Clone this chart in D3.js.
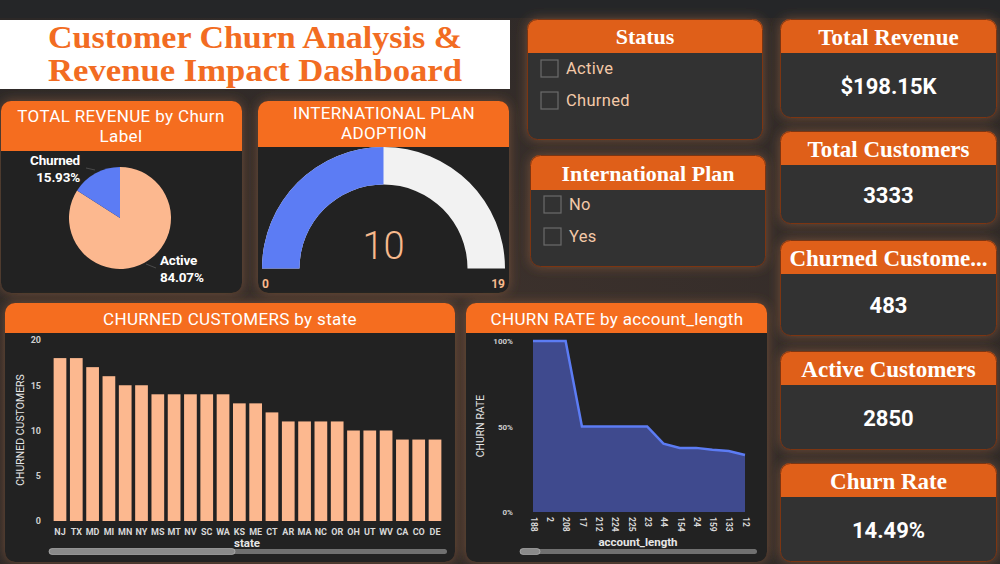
<!DOCTYPE html>
<html><head><meta charset="utf-8">
<script src="https://cdn.jsdelivr.net/npm/d3@7"></script>
<style>
html,body{margin:0;padding:0;background:#2e2a29;}
svg{display:block;}
</style></head>
<body>
<svg id="c" width="1000" height="564"></svg>
<script>
// ---------- DATA ----------
const titleLines = ["Customer Churn Analysis &", "Revenue Impact Dashboard"];
const pieLabels = ["Active", "Churned"];
const pieValues = [84.07, 15.93];
const gaugeValue = 9.5;
const gaugeMin = 0;
const gaugeMax = 19;
const statusOptions = ["Active", "Churned"];
const planOptions = ["No", "Yes"];
const kpiTitles = ["Total Revenue", "Total Customers", "Churned Custome...", "Active Customers", "Churn Rate"];
const kpiValues = ["$198.15K", "3333", "483", "2850", "14.49%"];
const states = ["NJ","TX","MD","MI","MN","NY","MS","MT","NV","SC","WA","KS","ME","CT","AR","MA","NC","OR","OH","UT","WV","CA","CO","DE"];
const churnedByState = [18,18,17,16,15,15,14,14,14,14,14,13,13,12,11,11,11,11,10,10,10,9,9,9];
const stateTicks = [0,5,10,15,20];
const accountLengths = ["188","2","208","17","212","224","225","23","44","154","24","159","133","12"];
const churnRates = [1,1,1,0.5,0.5,0.5,0.5,0.5,0.4,0.375,0.375,0.364,0.357,0.333];
const rateTicks = [0,0.5,1];

// ---------- STYLE ----------
const DIN = "Roboto, 'DejaVu Sans', sans-serif";
const SERIF = "'Liberation Serif', 'DejaVu Serif', serif";
const ORANGE = "#f56d1f";
const ORANGE2 = "#df5f19";
const PEACH = "#fcb88f";
const BLUE = "#5c7cf4";

const svg = d3.select("#c");
const defs = svg.append("defs");

// background
const bg = defs.append("radialGradient").attr("id","bgg").attr("cx","50%").attr("cy","55%").attr("r","70%");
bg.append("stop").attr("offset","0%").attr("stop-color","#3c312c");
bg.append("stop").attr("offset","100%").attr("stop-color","#2c2827");
svg.append("rect").attr("width",1000).attr("height",564).attr("fill","url(#bgg)");
svg.append("rect").attr("width",1000).attr("height",18).attr("fill","#252628");

const glow = defs.append("filter").attr("id","glow").attr("x","-20%").attr("y","-20%").attr("width","140%").attr("height","140%");
glow.append("feDropShadow").attr("dx",0).attr("dy",0).attr("stdDeviation",6).attr("flood-color","#7e5238").attr("flood-opacity",0.85);

let clipN = 0;
function panel(x, y, w, h, headH, opts) {
  const o = Object.assign({r:10, head:ORANGE, body:"#262626", stroke:null}, opts||{});
  const id = "clip" + (clipN++);
  defs.append("clipPath").attr("id", id).append("rect")
    .attr("x", x).attr("y", y).attr("width", w).attr("height", h).attr("rx", o.r);
  const g = svg.append("g");
  g.append("rect").attr("x", x).attr("y", y).attr("width", w).attr("height", h).attr("rx", o.r)
    .attr("fill", o.body).attr("filter","url(#glow)");
  const inner = g.append("g").attr("clip-path", `url(#${id})`);
  inner.append("rect").attr("x", x).attr("y", y).attr("width", w).attr("height", headH).attr("fill", o.head);
  if (o.stroke) {
    g.append("rect").attr("x", x+0.5).attr("y", y+0.5).attr("width", w-1).attr("height", h-1).attr("rx", o.r)
      .attr("fill","none").attr("stroke", o.stroke).attr("stroke-width",1);
  }
  return g;
}
function header(g, lines, cx, y0, dy) {
  g.selectAll(null).data(lines).join("text")
    .attr("x",cx).attr("y",(d,i)=>y0+i*dy).attr("text-anchor","middle")
    .attr("font-family",DIN).attr("font-size",17).attr("letter-spacing",0.35).attr("fill","#fff").text(d=>d);
}

// ---------- TITLE ----------
svg.append("rect").attr("x",0).attr("y",20).attr("width",510).attr("height",69).attr("fill","#ffffff");
svg.append("g").selectAll("text").data(titleLines).join("text")
  .attr("x",255).attr("y",(d,i)=>48+i*33).attr("text-anchor","middle")
  .attr("font-family",SERIF).attr("font-weight","bold").attr("font-size",31)
  .attr("textLength",414).attr("lengthAdjust","spacingAndGlyphs")
  .attr("fill","#f26c22").text(d=>d);

// ---------- PIE ----------
{
  const g = panel(1,101,241,192,50,{body:"#232323"});
  header(g, ["TOTAL REVENUE by Churn","Label"], 121, 122, 20);
  const cx=120, cy=218, r=51;
  const pie = d3.pie().sort(null).startAngle(0).endAngle(2*Math.PI);
  const arcs = pie(pieValues);
  const arc = d3.arc().innerRadius(0).outerRadius(r);
  const colors = [PEACH, BLUE];
  g.append("g").attr("transform",`translate(${cx},${cy})`).selectAll("path").data(arcs).join("path")
    .attr("d",arc).attr("fill",(d,i)=>colors[i]);
  g.append("line").attr("x1",86).attr("y1",168).attr("x2",95).attr("y2",170).attr("stroke","#555").attr("stroke-width",0.8);
  g.append("line").attr("x1",146).attr("y1",264).attr("x2",156).attr("y2",268).attr("stroke","#555").attr("stroke-width",0.8);
  const fmt = d3.format(".2f");
  const lab = (x,y,anchor,t)=>g.append("text").attr("x",x).attr("y",y).attr("text-anchor",anchor)
    .attr("font-family",DIN).attr("font-weight","bold").attr("font-size",13.5).attr("letter-spacing",-0.2).attr("fill","#fff").text(t);
  lab(80,165,"end",pieLabels[1]);
  lab(80,182,"end",fmt(pieValues[1])+"%");
  lab(160,265,"start",pieLabels[0]);
  lab(160,282,"start",fmt(pieValues[0])+"%");
}

// ---------- GAUGE ----------
{
  const g = panel(258,101,251,192,46,{body:"#232323"});
  header(g, ["INTERNATIONAL PLAN","ADOPTION"], 384, 119, 20);
  const cx=383.5, cy=268.5;
  const a = d3.scaleLinear().domain([gaugeMin,gaugeMax]).range([-Math.PI/2, Math.PI/2]);
  const arc = d3.arc().innerRadius(84).outerRadius(121.5);
  const gg = g.append("g").attr("transform",`translate(${cx},${cy})`);
  gg.append("path").attr("d",arc({startAngle:a(gaugeMin),endAngle:a(gaugeMax)})).attr("fill","#f2f2f2");
  gg.append("path").attr("d",arc({startAngle:a(gaugeMin),endAngle:a(gaugeValue)})).attr("fill",BLUE);
  g.append("text").attr("x",cx).attr("y",259).attr("text-anchor","middle").attr("font-family",DIN).attr("font-weight",300)
    .attr("font-size",38).attr("fill","#f7b98c").text(d3.format(".0f")(gaugeValue));
  g.append("text").attr("x",262).attr("y",288).attr("font-family",DIN).attr("font-weight","bold")
    .attr("font-size",12).attr("fill","#f7b98c").text(gaugeMin);
  g.append("text").attr("x",505).attr("y",288).attr("text-anchor","end").attr("font-family",DIN).attr("font-weight","bold")
    .attr("font-size",12).attr("fill","#f7b98c").text(gaugeMax);
}

// ---------- SLICERS ----------
function slicer(x,y,w,h,headH,title,items,itemY0,boxX) {
  const g = panel(x,y,w,h,headH,{head:ORANGE2, body:"#333233", stroke:"#7c3512"});
  g.append("text").attr("x",x+w/2).attr("y",y+headH-9).attr("text-anchor","middle")
    .attr("font-family",SERIF).attr("font-weight","bold").attr("font-size",22).attr("fill","#fff").text(title);
  const it = g.selectAll("g.it").data(items).join("g").attr("transform",(d,i)=>`translate(0,${itemY0+i*32})`);
  it.append("rect").attr("x",boxX).attr("y",0).attr("width",17).attr("height",17).attr("fill","none")
    .attr("stroke","#6b6b6b").attr("stroke-width",1.2);
  it.append("text").attr("x",boxX+25).attr("y",14).attr("font-family",DIN).attr("font-size",16.5).attr("letter-spacing",0.3)
    .attr("fill","#f3c9a8").text(d=>d);
}
slicer(527,19,236,121,34,"Status",statusOptions,60,541);
slicer(530,155,236,112,35,"International Plan",planOptions,196,544);

// ---------- KPI CARDS ----------
const kpiY = [19,131,240,351,463];
const kpiH = [99,93,96,99,99];
kpiTitles.forEach((t,i)=>{
  const y = kpiY[i];
  const g = panel(780,y,217,kpiH[i],34,{head:ORANGE2, body:"#333233", stroke:"#7c3512"});
  g.append("text").attr("x",888.5).attr("y",y+26).attr("text-anchor","middle")
    .attr("font-family",SERIF).attr("font-weight","bold").attr("font-size",23).attr("fill","#fff").text(t);
  g.append("text").attr("x",888.5).attr("y",y+34+(kpiH[i]-34)/2+8).attr("text-anchor","middle")
    .attr("font-family",DIN).attr("font-weight","bold").attr("font-size",22).attr("fill","#fff").text(kpiValues[i]);
});

// ---------- BAR CHART ----------
{
  const g = panel(5,303,450,259,30,{body:"#232323"});
  header(g, ["CHURNED CUSTOMERS by state"], 230, 325, 0);
  const x = d3.scaleBand().domain(states).range([52,443]).paddingInner(0.22).paddingOuter(0.1);
  const y = d3.scaleLinear().domain([0,20]).range([521,340]);
  g.append("g").selectAll("rect").data(states).join("rect")
    .attr("x",d=>x(d)).attr("width",x.bandwidth())
    .attr("y",(d,i)=>y(churnedByState[i])).attr("height",(d,i)=>y(0)-y(churnedByState[i]))
    .attr("fill",PEACH);
  const ya = g.append("g").attr("transform","translate(44,0)")
    .call(d3.axisLeft(y).tickValues(stateTicks).tickSize(0).tickPadding(3));
  ya.select(".domain").remove();
  ya.selectAll("text").attr("font-family",DIN).attr("font-weight","bold").attr("font-size",9).attr("fill","#cfcfcf");
  const xa = g.append("g").attr("transform","translate(0,526)")
    .call(d3.axisBottom(x).tickSize(0).tickPadding(3));
  xa.select(".domain").remove();
  xa.selectAll("text").attr("font-family",DIN).attr("font-weight","bold").attr("font-size",9).attr("fill","#d8d8d8");
  g.append("text").attr("x",247).attr("y",547).attr("text-anchor","middle").attr("font-family",DIN).attr("font-weight","bold")
    .attr("font-size",11.5).attr("fill","#e6e6e6").text("state");
  g.append("text").attr("transform","translate(24,430) rotate(-90)").attr("text-anchor","middle").attr("font-family",DIN)
    .attr("font-size",10.5).attr("fill","#e6e6e6").text("CHURNED CUSTOMERS");
  g.append("rect").attr("x",49).attr("y",549).attr("width",398).attr("height",5).attr("rx",2.5).attr("fill","#707070");
  g.append("rect").attr("x",49).attr("y",548.5).attr("width",186).attr("height",6).attr("rx",3).attr("fill","#8a8a8a").attr("stroke","#bdbdbd").attr("stroke-width",0.6);
}

// ---------- AREA CHART ----------
{
  const g = panel(466,303,301,259,30,{body:"#232323"});
  header(g, ["CHURN RATE by account_length"], 617, 325, 0);
  const x = d3.scalePoint().domain(accountLengths).range([533,745]);
  const y = d3.scaleLinear().domain([0,1]).range([512,341]);
  const data = accountLengths.map((k,i)=>({k, v:churnRates[i]}));
  g.append("path").datum(data).attr("d", d3.area().x(d=>x(d.k)).y0(y(0)).y1(d=>y(d.v)))
    .attr("fill","#3f4a8e");
  g.append("path").datum(data).attr("d", d3.line().x(d=>x(d.k)).y(d=>y(d.v)))
    .attr("fill","none").attr("stroke",BLUE).attr("stroke-width",2.5);
  const ya = g.append("g").attr("transform","translate(516,0)")
    .call(d3.axisLeft(y).tickValues(rateTicks).tickFormat(d3.format(".0%")).tickSize(0).tickPadding(3));
  ya.select(".domain").remove();
  ya.selectAll("text").attr("font-family",DIN).attr("font-weight","bold").attr("font-size",8).attr("fill","#cfcfcf");
  const xa = g.append("g").attr("transform","translate(0,517)")
    .call(d3.axisBottom(x).tickSize(0).tickPadding(0));
  xa.select(".domain").remove();
  xa.selectAll("text").attr("font-family",DIN).attr("font-weight","bold").attr("font-size",8.5).attr("fill","#d8d8d8")
    .attr("transform","rotate(90)").attr("text-anchor","start").attr("dy","0.32em").attr("x",0).attr("y",0);
  g.append("text").attr("x",638).attr("y",546).attr("text-anchor","middle").attr("font-family",DIN).attr("font-weight","bold")
    .attr("font-size",11.5).attr("fill","#e6e6e6").text("account_length");
  g.append("text").attr("transform","translate(484,426) rotate(-90)").attr("text-anchor","middle").attr("font-family",DIN)
    .attr("font-size",10.5).attr("fill","#e6e6e6").text("CHURN RATE");
  g.append("rect").attr("x",520).attr("y",549).attr("width",237).attr("height",5).attr("rx",2.5).attr("fill","#707070");
  g.append("rect").attr("x",520).attr("y",548.5).attr("width",20).attr("height",6).attr("rx",3).attr("fill","#8a8a8a").attr("stroke","#bdbdbd").attr("stroke-width",0.6);
}
</script>
</body></html>
